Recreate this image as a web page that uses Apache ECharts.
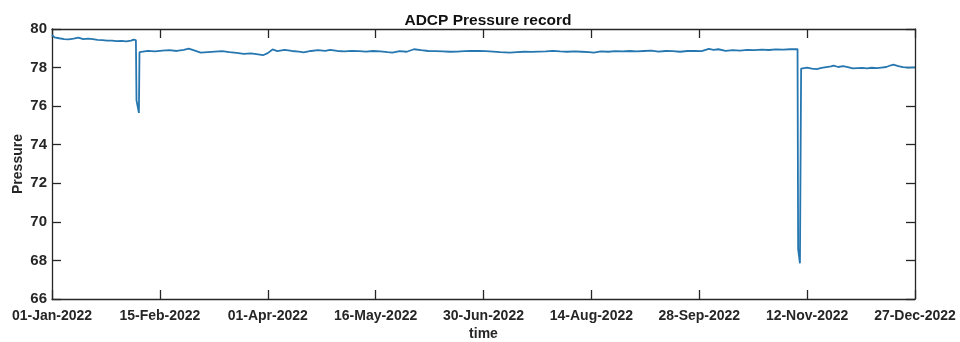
<!DOCTYPE html>
<html>
<head>
<meta charset="utf-8">
<script src="https://cdn.jsdelivr.net/npm/echarts@6/dist/echarts.min.js"></script>
<style>html,body{margin:0;padding:0;background:#fff}#c{width:960px;height:342px}</style>
</head>
<body>
<div id="c"></div>
<script>
const chartTitle = 'ADCP Pressure record';
const xName = 'time';
const yName = 'Pressure';
const xTickLabels = ['01-Jan-2022','15-Feb-2022','01-Apr-2022','16-May-2022','30-Jun-2022','14-Aug-2022','28-Sep-2022','12-Nov-2022','27-Dec-2022'];
const yTicks = [66, 68, 70, 72, 74, 76, 78, 80];

const times = [
 '2022-01-01T00:00','2022-01-02T00:00','2022-01-04T00:00','2022-01-06T00:00','2022-01-08T00:00','2022-01-10T00:00',
 '2022-01-12T00:00','2022-01-14T00:00','2022-01-16T00:00','2022-01-18T00:00','2022-01-20T00:00','2022-01-22T00:00',
 '2022-01-24T00:00','2022-01-26T00:00','2022-01-28T00:00','2022-01-30T00:00','2022-02-01T00:00','2022-02-03T00:00',
 '2022-02-04T00:00','2022-02-05T00:00','2022-02-05T06:00','2022-02-06T06:00','2022-02-06T12:00',
 '2022-02-07T00:00','2022-02-10T00:00','2022-02-13T00:00','2022-02-16T00:00','2022-02-19T00:00','2022-02-22T00:00',
 '2022-02-25T00:00','2022-02-27T00:00','2022-03-01T00:00','2022-03-04T00:00','2022-03-07T00:00','2022-03-10T00:00',
 '2022-03-13T00:00','2022-03-16T00:00','2022-03-19T00:00','2022-03-22T00:00','2022-03-25T00:00','2022-03-28T00:00',
 '2022-03-30T00:00','2022-04-01T00:00','2022-04-03T00:00','2022-04-05T00:00','2022-04-08T00:00','2022-04-11T00:00',
 '2022-04-14T00:00','2022-04-16T00:00','2022-04-19T00:00','2022-04-22T00:00','2022-04-25T00:00','2022-04-27T00:00',
 '2022-04-30T00:00','2022-05-03T00:00','2022-05-06T00:00','2022-05-09T00:00','2022-05-12T00:00','2022-05-15T00:00',
 '2022-05-18T00:00','2022-05-21T00:00','2022-05-23T00:00','2022-05-26T00:00','2022-05-29T00:00','2022-06-01T00:00',
 '2022-06-04T00:00','2022-06-07T00:00','2022-06-10T00:00','2022-06-13T00:00','2022-06-16T00:00','2022-06-19T00:00',
 '2022-06-22T00:00','2022-06-25T00:00','2022-06-28T00:00','2022-07-01T00:00','2022-07-04T00:00','2022-07-07T00:00',
 '2022-07-11T00:00','2022-07-14T00:00','2022-07-17T00:00','2022-07-20T00:00','2022-07-23T00:00','2022-07-26T00:00',
 '2022-07-29T00:00','2022-08-01T00:00','2022-08-04T00:00','2022-08-07T00:00','2022-08-10T00:00','2022-08-13T00:00',
 '2022-08-15T00:00','2022-08-18T00:00','2022-08-21T00:00','2022-08-24T00:00','2022-08-27T00:00','2022-08-30T00:00',
 '2022-09-02T00:00','2022-09-05T00:00','2022-09-08T00:00','2022-09-11T00:00','2022-09-14T00:00','2022-09-17T00:00',
 '2022-09-20T00:00','2022-09-23T00:00','2022-09-26T00:00','2022-09-29T00:00','2022-10-02T00:00','2022-10-04T00:00',
 '2022-10-06T00:00','2022-10-09T00:00','2022-10-12T00:00','2022-10-15T00:00','2022-10-18T00:00','2022-10-21T00:00',
 '2022-10-24T00:00','2022-10-27T00:00','2022-10-30T00:00','2022-11-02T00:00','2022-11-05T00:00','2022-11-08T00:00',
 '2022-11-08T06:00','2022-11-09T00:00','2022-11-09T12:00',
 '2022-11-10T00:00','2022-11-12T00:00','2022-11-14T00:00','2022-11-16T00:00','2022-11-18T00:00','2022-11-20T00:00',
 '2022-11-22T00:00','2022-11-23T00:00','2022-11-25T00:00','2022-11-27T00:00','2022-11-29T00:00','2022-12-01T00:00',
 '2022-12-03T00:00','2022-12-05T00:00','2022-12-07T00:00','2022-12-09T00:00','2022-12-11T00:00','2022-12-13T00:00',
 '2022-12-15T00:00','2022-12-17T00:00','2022-12-18T00:00','2022-12-20T00:00','2022-12-22T00:00','2022-12-24T00:00',
 '2022-12-27T00:00'
];
const pressure = [
 79.70,79.57,79.52,79.48,79.46,79.50,
 79.55,79.48,79.50,79.47,79.44,79.42,
 79.40,79.40,79.37,79.38,79.36,79.40,
 79.45,79.42,76.30,75.65,78.80,
 78.85,78.87,78.84,78.88,78.90,78.86,
 78.92,78.98,78.90,78.77,78.80,78.83,
 78.85,78.80,78.76,78.71,78.74,78.68,
 78.64,78.75,78.94,78.85,78.92,78.86,
 78.83,78.79,78.86,78.90,78.87,78.92,
 78.86,78.84,78.87,78.85,78.83,78.86,
 78.84,78.80,78.78,78.85,78.82,78.95,
 78.90,78.86,78.85,78.84,78.82,78.83,
 78.85,78.86,78.87,78.85,78.83,78.80,
 78.77,78.80,78.82,78.81,78.83,78.84,
 78.87,78.84,78.82,78.84,78.82,78.80,
 78.77,78.84,78.82,78.85,78.84,78.86,
 78.84,78.86,78.88,78.83,78.86,78.85,
 78.82,78.86,78.87,78.85,78.97,78.92,
 78.95,78.87,78.90,78.88,78.92,78.90,
 78.93,78.91,78.94,78.93,78.95,78.96,
 68.60,67.85,77.95,
 77.98,78.00,77.95,77.92,77.98,78.02,
 78.06,78.10,78.03,78.07,78.02,77.96,
 77.97,77.98,77.96,77.99,77.97,78.00,
 78.03,78.12,78.15,78.08,78.02,78.00,
 78.01
];

const DAY = 86400000;
const t0 = Date.parse('2022-01-01T00:00:00Z');
const seriesData = times.map((t, i) => [(Date.parse(t + ':00Z') - t0) / DAY, pressure[i]]);

const axisColor = '#262626';
const font = 'Liberation Sans, Arial, sans-serif';
const labelStyle = { color: axisColor, fontFamily: font, fontWeight: 'bold', fontSize: 14 };

const chart = echarts.init(document.getElementById('c'), null, { renderer: 'canvas' });
const xCommon = {
  type: 'value', min: 0, max: 360, interval: 45,
  axisLine: { show: true, onZero: false, lineStyle: { color: axisColor, width: 1.3 } },
  axisTick: { show: true, inside: true, length: 9, lineStyle: { color: axisColor, width: 1.3 } },
  splitLine: { show: false }
};
const yCommon = {
  type: 'value', min: yTicks[0], max: yTicks[yTicks.length - 1], interval: 2,
  axisLine: { show: true, onZero: false, lineStyle: { color: axisColor, width: 1.3 } },
  axisTick: { show: true, inside: true, length: 9, lineStyle: { color: axisColor, width: 1.3 } },
  splitLine: { show: false }
};
chart.setOption({
  animation: false,
  backgroundColor: '#ffffff',
  title: {
    text: chartTitle, left: 483, textAlign: 'center', top: 8,
    textStyle: { color: '#111', fontFamily: font, fontWeight: 'bold', fontSize: 15.5 }
  },
  grid: { left: 52, right: 45, top: 29, bottom: 43, containLabel: false, outerBoundsMode: 'none' },
  xAxis: [
    Object.assign({}, xCommon, {
      position: 'bottom',
      name: xName, nameLocation: 'middle', nameGap: 28, nameMoveOverlap: false,
      nameTextStyle: labelStyle,
      axisLabel: Object.assign({}, labelStyle, {
        margin: 10,
        formatter: v => xTickLabels[Math.round(v / 45)] || ''
      })
    }),
    Object.assign({}, xCommon, { position: 'top', axisLabel: { show: false } })
  ],
  yAxis: [
    Object.assign({}, yCommon, {
      position: 'left',
      name: yName, nameLocation: 'middle', nameGap: 27, nameRotate: 90, nameMoveOverlap: false,
      nameTextStyle: labelStyle,
      axisLabel: Object.assign({}, labelStyle, { fontSize: 15, margin: 5 })
    }),
    Object.assign({}, yCommon, { position: 'right', axisLabel: { show: false } })
  ],
  series: [{
    type: 'line', data: seriesData, showSymbol: false, symbol: 'none',
    xAxisIndex: 0, yAxisIndex: 0,
    lineStyle: { color: '#2677b0', width: 1.8 },
    clip: true
  }]
});
</script>
</body>
</html>
